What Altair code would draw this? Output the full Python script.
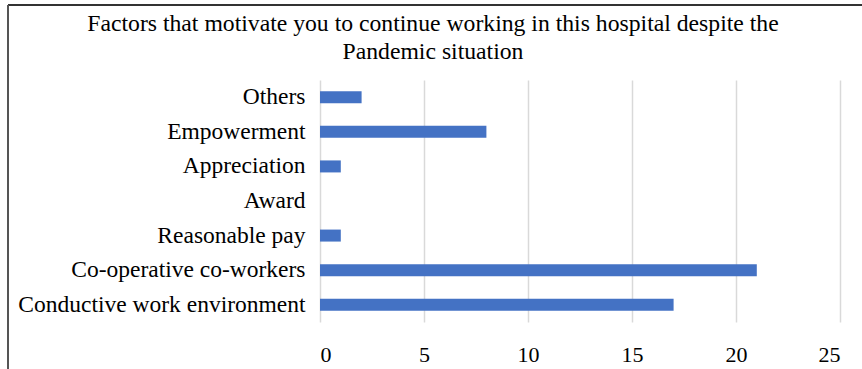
import altair as alt
import pandas as pd

factors = [
    "Others",
    "Empowerment",
    "Appreciation",
    "Award",
    "Reasonable pay",
    "Co-operative co-workers",
    "Conductive work environment",
]
counts = [2, 8, 1, 0, 1, 21, 17]
x_ticks = [0, 5, 10, 15, 20, 25]

df = pd.DataFrame({"factor": factors, "count": counts})

FONT = "Liberation Serif, Times New Roman, serif"

bars = alt.Chart(df).mark_bar(color="#4472C4", size=12).encode(
    x=alt.X(
        "count:Q",
        scale=alt.Scale(domain=[0, 25], nice=False),
        axis=alt.Axis(
            values=x_ticks,
            title=None,
            domain=False,
            ticks=False,
            grid=True,
            gridColor="#d9d9d9",
            gridWidth=1.5,
            labelFont=FONT,
            labelFontSize=22,
            labelColor="#000000",
            labelPadding=22,
        ),
    ),
    y=alt.Y(
        "factor:N",
        sort=factors,
        scale=alt.Scale(paddingInner=0.6, paddingOuter=0.3),
        axis=alt.Axis(
            title=None,
            domain=False,
            ticks=False,
            labelFont=FONT,
            labelFontSize=23.5,
            labelColor="#000000",
            labelPadding=15,
            labelLimit=400,
        ),
    ),
)

# outer frame: top edge and left edge
frame_top = alt.Chart().mark_rule(color="#333333", strokeWidth=2).encode(
    x=alt.value(-312), x2=alt.value(545), y=alt.value(-75)
)
frame_left = alt.Chart().mark_rule(color="#555555", strokeWidth=2).encode(
    x=alt.value(-312), y=alt.value(-75), y2=alt.value(295)
)

chart = alt.layer(bars, frame_top, frame_left).properties(
    width=520,
    height=242,
    autosize=alt.AutoSizeParams(type="none"),
    padding={"left": 320, "top": 80, "right": 22, "bottom": 47},
    title=alt.TitleParams(
        text=[
            "Factors that motivate  you to continue working in this hospital despite the",
            "Pandemic situation",
        ],
        font=FONT,
        fontSize=23.7,
        fontWeight="normal",
        color="#000000",
        anchor="middle",
        dx=-147,
        offset=-60,
        lineHeight=28,
    ),
).configure_view(stroke=None)

chart.save("out.html", embed_options={"renderer": "svg", "actions": False})
